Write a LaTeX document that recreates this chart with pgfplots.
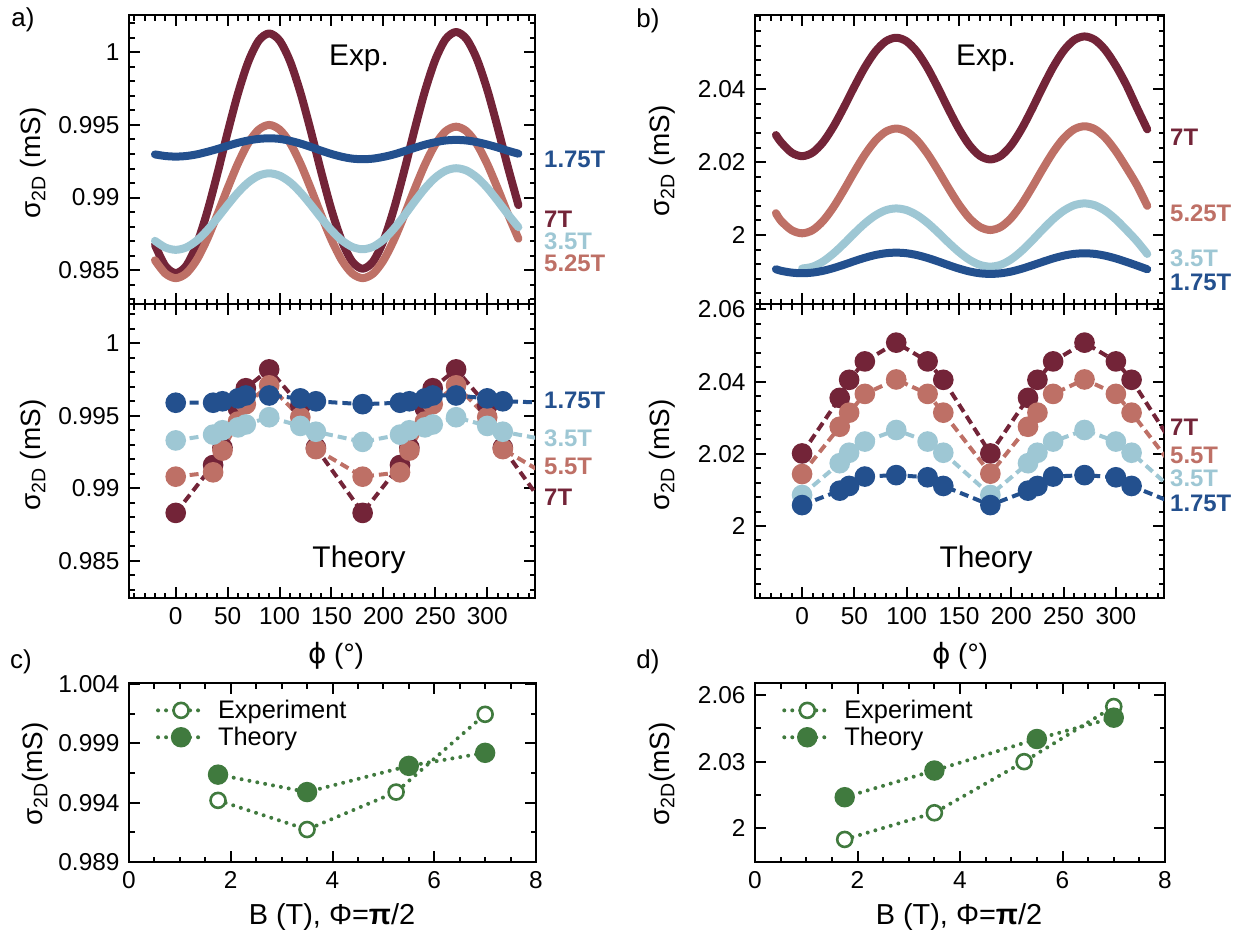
\documentclass[border=0pt]{standalone}
\usepackage{fontspec}
\setmainfont{Liberation Sans}
\newfontfamily\dv{DejaVu Sans}
\usepackage{pgfplots}
\pgfplotsset{compat=1.18}
\definecolor{cA}{RGB}{115,36,56}
\definecolor{cB}{RGB}{190,112,102}
\definecolor{cC}{RGB}{158,199,212}
\definecolor{cD}{RGB}{35,80,142}
\definecolor{cG}{RGB}{64,122,62}
\pgfplotsset{
  base/.style={scale only axis, axis line style={line width=2.5bp},
    every tick/.style={black, line width=2bp},
    major tick length=11bp, minor tick length=5.5bp, tick align=inside,
    tick label style={font=\fontsize{24.5}{26}\selectfont},
    /pgf/number format/assume math mode=true,
    yticklabel style={xshift=-6bp},
    xticklabel style={yshift=-6bp}},
  phi/.style={base, xmin=-45, xmax=346, xtick={0,50,...,300},
    minor xtick={-40,-30,...,340}},
  pa/.style={phi, width=406bp, ytick={0.985,0.99,0.995,1}, yticklabels={0.985,0.99,0.995,1},
    minor ytick={0.983,0.984,...,1.0025}},
  pb/.style={phi, width=409bp, minor ytick={1.984,1.988,...,2.061}},
  exp/.style={line width=8bp, line cap=round, line join=round, smooth, no marks},
  th/.style={line width=4bp, dash pattern=on 9bp off 5bp, mark=*, mark size=8.3bp, mark options={solid}},
  bb/.style={base, xmin=0, xmax=8, xtick={0,2,4,6,8}, minor xtick={0.5,1,...,7.5},
    legend style={at={(0.066,0.915)}, anchor=north west, draw=none, fill=none,
      font=\fontsize{25.5}{27}\selectfont, row sep=3bp, inner sep=0pt,
      /tikz/every odd column/.append style={column sep=10bp}},
    legend cell align=left,
    legend image code/.code={\draw[mark repeat=2,mark phase=2,#1] plot coordinates {(0bp,0bp) (23bp,0bp) (46bp,0bp)};}},
  gexp/.style={cG, line width=4bp, dash pattern=on 0bp off 8bp, line cap=round, mark=*, mark size=7.5bp, mark options={solid, fill=white, draw=cG, line width=2.6bp}},
  gth/.style={cG, line width=4bp, dash pattern=on 0bp off 8bp, line cap=round, mark=*, mark size=8.2bp, mark options={solid, fill=cG, draw=cG}},
}
\newcommand{\lab}{\fontsize{24}{26}\selectfont\bfseries}
\begin{document}
\begin{tikzpicture}
\useasboundingbox (0bp,0bp) rectangle (1237bp,-937bp);
% ---------------- panel a, top (Exp.)
\begin{axis}[pa, at={(129bp,-304bp)}, anchor=south west, height=289bp,
  ymin=0.98267, ymax=1.00257, xticklabels={}]
\addplot[exp, cA] coordinates {(-20,0.98673)(-10,0.98529)(0,0.98480)(10,0.98529)(20,0.98673)(30,0.98893)(40,0.99161)(50,0.99449)(60,0.99718)(70,0.99937)(80,1.00081)(90,1.00130)(100,1.00081)(110,0.99940)(120,0.99725)(130,0.99461)(140,0.99179)(150,0.98915)(160,0.98700)(170,0.98559)(180,0.98510)(190,0.98559)(200,0.98701)(210,0.98918)(220,0.99183)(230,0.99467)(240,0.99733)(250,0.99949)(260,1.00091)(270,1.00140)(280,1.00092)(290,0.99954)(300,0.99743)(310,0.99483)(320,0.99207)(330,0.98948)};
\addplot[exp, cB] coordinates {(-20,0.98568)(-10,0.98477)(0,0.98445)(10,0.98477)(20,0.98568)(30,0.98709)(40,0.98881)(50,0.99064)(60,0.99236)(70,0.99377)(80,0.99468)(90,0.99500)(100,0.99468)(110,0.99377)(120,0.99236)(130,0.99064)(140,0.98881)(150,0.98709)(160,0.98568)(170,0.98477)(180,0.98445)(190,0.98476)(200,0.98567)(210,0.98706)(220,0.98876)(230,0.99057)(240,0.99227)(250,0.99366)(260,0.99457)(270,0.99488)(280,0.99457)(290,0.99368)(300,0.99231)(310,0.99063)(320,0.98885)(330,0.98717)};
\addplot[exp, cC] coordinates {(-20,0.98702)(-10,0.98656)(0,0.98640)(10,0.98656)(20,0.98702)(30,0.98772)(40,0.98858)(50,0.98949)(60,0.99035)(70,0.99105)(80,0.99151)(90,0.99167)(100,0.99151)(110,0.99106)(120,0.99036)(130,0.98951)(140,0.98860)(150,0.98775)(160,0.98705)(170,0.98660)(180,0.98644)(190,0.98661)(200,0.98709)(210,0.98784)(220,0.98875)(230,0.98972)(240,0.99063)(250,0.99137)(260,0.99185)(270,0.99202)(280,0.99186)(290,0.99139)(300,0.99067)(310,0.98978)(320,0.98884)(330,0.98796)};
\addplot[exp, cD] coordinates {(-20,0.99297)(-10,0.99286)(0,0.99282)(10,0.99286)(20,0.99297)(30,0.99314)(40,0.99334)(50,0.99356)(60,0.99377)(70,0.99393)(80,0.99404)(90,0.99408)(100,0.99404)(110,0.99391)(120,0.99372)(130,0.99349)(140,0.99323)(150,0.99300)(160,0.99281)(170,0.99268)(180,0.99264)(190,0.99268)(200,0.99280)(210,0.99297)(220,0.99319)(230,0.99342)(240,0.99364)(250,0.99381)(260,0.99393)(270,0.99397)(280,0.99393)(290,0.99382)(300,0.99365)(310,0.99345)(320,0.99322)(330,0.99302)};
\end{axis}
% ---------------- panel a, bottom (Theory)
\begin{axis}[pa, at={(129bp,-598bp)}, anchor=south west, height=294bp,
  ymin=0.98243, ymax=1.00271]
\addplot[th, cA] coordinates {(0,0.9883)(36,0.9916)(45,0.9928)(60,0.9955)(67.5,0.9969)(90,0.9982)(120,0.9957)(135,0.9928)(180,0.9883)(216,0.9916)(225,0.9928)(240,0.9955)(247.5,0.9969)(270,0.9982)(300,0.9957)(315,0.9928)(360,0.9883)};
\addplot[th, cB] coordinates {(0,0.9908)(36,0.9911)(45,0.9926)(60,0.9946)(67.5,0.9958)(90,0.9971)(120,0.9949)(135,0.9927)(180,0.9908)(216,0.9911)(225,0.9926)(240,0.9946)(247.5,0.9958)(270,0.9971)(300,0.9949)(315,0.9927)(360,0.9908)};
\addplot[th, cC] coordinates {(0,0.9933)(36,0.9937)(45,0.9940)(60,0.9942)(67.5,0.9944)(90,0.9949)(120,0.9943)(135,0.9939)(180,0.9932)(216,0.9937)(225,0.9940)(240,0.9942)(247.5,0.9944)(270,0.9949)(300,0.9943)(315,0.9939)(360,0.9933)};
\addplot[th, cD] coordinates {(0,0.9959)(36,0.9959)(45,0.9960)(60,0.9962)(67.5,0.9964)(90,0.9964)(120,0.9962)(135,0.9960)(180,0.9958)(216,0.9959)(225,0.9960)(240,0.9962)(247.5,0.9964)(270,0.9964)(300,0.9962)(315,0.9960)(360,0.9959)};
\end{axis}
% ---------------- panel b, top (Exp.)
\begin{axis}[pb, at={(755bp,-304bp)}, anchor=south west, height=289bp,
  ymin=1.98106, ymax=2.0604, ytick={2,2.02,2.04}, yticklabels={2,2.02,2.04}, xticklabels={}]
\addplot[exp, cA] coordinates {(-25,2.02745)(-20,2.02545)(-10,2.02262)(0,2.02164)(10,2.02262)(20,2.02545)(30,2.02977)(40,2.03507)(50,2.04073)(60,2.04603)(70,2.05035)(80,2.05318)(90,2.05416)(100,2.05316)(110,2.05025)(120,2.04581)(130,2.04036)(140,2.03454)(150,2.02910)(160,2.02465)(170,2.02174)(180,2.02074)(190,2.02175)(200,2.02469)(210,2.02919)(220,2.03469)(230,2.04057)(240,2.04608)(250,2.05057)(260,2.05351)(270,2.05452)(280,2.05355)(290,2.05074)(300,2.04645)(310,2.04119)(320,2.03500)(330,2.02900)};
\addplot[exp, cB] coordinates {(-25,2.00600)(-20,2.00384)(-10,2.00133)(0,2.00047)(10,2.00133)(20,2.00384)(30,2.00766)(40,2.01235)(50,2.01735)(60,2.02204)(70,2.02587)(80,2.02837)(90,2.02923)(100,2.02839)(110,2.02597)(120,2.02227)(130,2.01772)(140,2.01288)(150,2.00834)(160,2.00463)(170,2.00221)(180,2.00137)(190,2.00222)(200,2.00470)(210,2.00849)(220,2.01314)(230,2.01809)(240,2.02274)(250,2.02653)(260,2.02901)(270,2.02986)(280,2.02904)(290,2.02665)(300,2.02300)(310,2.01852)(320,2.01374)(330,2.00800)};
\addplot[exp, cC] coordinates {(0,1.99080)(10,1.99130)(20,1.99273)(30,1.99493)(40,1.99761)(50,2.00049)(60,2.00318)(70,2.00537)(80,2.00681)(90,2.00730)(100,2.00682)(110,2.00543)(120,2.00331)(130,2.00070)(140,1.99792)(150,1.99532)(160,1.99319)(170,1.99180)(180,1.99132)(190,1.99184)(200,1.99335)(210,1.99566)(220,1.99849)(230,2.00151)(240,2.00434)(250,2.00665)(260,2.00816)(270,2.00868)(280,2.00815)(290,2.00662)(300,2.00428)(310,2.00140)(320,1.99834)(330,1.99480)};
\addplot[exp, cD] coordinates {(-25,1.99060)(-20,1.99017)(-10,1.98968)(0,1.98951)(10,1.98968)(20,1.99017)(30,1.99092)(40,1.99184)(50,1.99283)(60,1.99375)(70,1.99450)(80,1.99499)(90,1.99516)(100,1.99499)(110,1.99448)(120,1.99370)(130,1.99275)(140,1.99173)(150,1.99078)(160,1.99000)(170,1.98949)(180,1.98932)(190,1.98949)(200,1.98998)(210,1.99074)(220,1.99166)(230,1.99264)(240,1.99357)(250,1.99432)(260,1.99481)(270,1.99498)(280,1.99481)(290,1.99431)(300,1.99356)(310,1.99263)(320,1.99163)(330,1.99060)};
\end{axis}
% ---------------- panel b, bottom (Theory)
\begin{axis}[pb, at={(755bp,-598bp)}, anchor=south west, height=294bp,
  ymin=1.98006, ymax=2.0615, ytick={2,2.02,2.04,2.06}, yticklabels={2,2.02,2.04,2.06}]
\addplot[th, cA] coordinates {(0,2.0201)(36,2.0355)(45,2.0405)(60,2.0456)(90,2.0508)(120,2.0456)(135,2.0405)(180,2.0201)(216,2.0355)(225,2.0405)(240,2.0456)(270,2.0508)(300,2.0456)(315,2.0405)(360,2.0201)};
\addplot[th, cB] coordinates {(0,2.0144)(36,2.0275)(45,2.0314)(60,2.0366)(90,2.0406)(120,2.0366)(135,2.0314)(180,2.0145)(216,2.0275)(225,2.0314)(240,2.0366)(270,2.0406)(300,2.0366)(315,2.0314)(360,2.0144)};
\addplot[th, cC] coordinates {(0,2.0086)(36,2.0174)(45,2.0203)(60,2.0234)(90,2.0266)(120,2.0234)(135,2.0203)(180,2.0086)(216,2.0174)(225,2.0203)(240,2.0234)(270,2.0266)(300,2.0234)(315,2.0203)(360,2.0086)};
\addplot[th, cD] coordinates {(0,2.0058)(36,2.0098)(45,2.0111)(60,2.0137)(90,2.0141)(120,2.0135)(135,2.0111)(180,2.0058)(216,2.0098)(225,2.0111)(240,2.0137)(270,2.0141)(300,2.0135)(315,2.0111)(360,2.0058)};
\end{axis}
% ---------------- panel c
\begin{axis}[bb, at={(129bp,-862bp)}, anchor=south west, width=407bp, height=179bp,
  ymin=0.989, ymax=1.0041, ytick={0.989,0.994,0.999,1.004}, yticklabels={0.989,0.994,0.999,1.004},
  minor ytick={0.9915,0.9965,1.0015}]
\addplot[gexp] coordinates {(1.75,0.9942)(3.5,0.99174)(5.25,0.9949)(7,1.00146)};
\addlegendentry{Experiment}
\addplot[gth] coordinates {(1.75,0.99637)(3.5,0.9949)(5.5,0.99711)(7,0.99821)};
\addlegendentry{Theory}
\end{axis}
% ---------------- panel d
\begin{axis}[bb, at={(755bp,-862bp)}, anchor=south west, width=410bp, height=179bp,
  ymin=1.98484, ymax=2.0654, ytick={2,2.03,2.06}, yticklabels={2,2.03,2.06},
  minor ytick={1.985,2.015,2.045}]
\addplot[gexp] coordinates {(1.75,1.9950)(3.5,2.0070)(5.25,2.0300)(7,2.0548)};
\addlegendentry{Experiment}
\addplot[gth] coordinates {(1.75,2.0140)(3.5,2.0260)(5.5,2.0402)(7,2.0498)};
\addlegendentry{Theory}
\end{axis}
% ---------------- texts
\node[font=\fontsize{26}{28}\selectfont] at (23bp,-20bp) {a)};
\node[font=\fontsize{26}{28}\selectfont] at (648bp,-21bp) {b)};
\node[font=\fontsize{26}{28}\selectfont] at (21bp,-662bp) {c)};
\node[font=\fontsize{26}{28}\selectfont] at (648bp,-662bp) {d)};
\node[font=\fontsize{30}{32}\selectfont] at (359bp,-58bp) {Exp.};
\node[font=\fontsize{30}{32}\selectfont] at (986bp,-58bp) {Exp.};
\node[font=\fontsize{30}{32}\selectfont] at (359bp,-560bp) {Theory};
\node[font=\fontsize{30}{32}\selectfont] at (986bp,-560bp) {Theory};
\node[rotate=90, font=\fontsize{28}{30}\selectfont] at (33bp,-163bp) {σ\textsubscript{2D} (mS)};
\node[rotate=90, font=\fontsize{28}{30}\selectfont] at (33bp,-455bp) {σ\textsubscript{2D} (mS)};
\node[rotate=90, font=\fontsize{28}{30}\selectfont] at (662bp,-161bp) {σ\textsubscript{2D} (mS)};
\node[rotate=90, font=\fontsize{28}{30}\selectfont] at (662bp,-455bp) {σ\textsubscript{2D} (mS)};
\node[rotate=90, font=\fontsize{28}{30}\selectfont] at (35bp,-774bp) {σ\textsubscript{2D}(mS)};
\node[rotate=90, font=\fontsize{28}{30}\selectfont] at (662bp,-774bp) {σ\textsubscript{2D}(mS)};
\node[font=\fontsize{28}{30}\selectfont] at (336bp,-656bp) {{\dv ϕ} (°)};
\node[font=\fontsize{28}{30}\selectfont] at (960bp,-656bp) {{\dv ϕ} (°)};
\node[font=\fontsize{29}{31}\selectfont] at (332bp,-917bp) {B (T), Φ=\textbf{π}/2};
\node[font=\fontsize{29}{31}\selectfont] at (959bp,-917bp) {B (T), Φ=\textbf{π}/2};
% right labels
\begin{scope}[every node/.style={anchor=west, inner sep=0pt, font=\lab}]
\node[text=cD] at (544bp,-159bp) {1.75T};
\node[text=cA] at (544bp,-219bp) {7T};
\node[text=cC] at (544bp,-241bp) {3.5T};
\node[text=cB] at (544bp,-263bp) {5.25T};
\node[text=cD] at (544bp,-400bp) {1.75T};
\node[text=cC] at (544bp,-438bp) {3.5T};
\node[text=cB] at (544bp,-466bp) {5.5T};
\node[text=cA] at (544bp,-497bp) {7T};
\node[text=cA] at (1170bp,-137bp) {7T};
\node[text=cB] at (1170bp,-213bp) {5.25T};
\node[text=cC] at (1170bp,-258bp) {3.5T};
\node[text=cD] at (1170bp,-282bp) {1.75T};
\node[text=cA] at (1170bp,-427bp) {7T};
\node[text=cB] at (1170bp,-455bp) {5.5T};
\node[text=cC] at (1170bp,-478bp) {3.5T};
\node[text=cD] at (1170bp,-503bp) {1.75T};
\end{scope}
\end{tikzpicture}
\end{document}
